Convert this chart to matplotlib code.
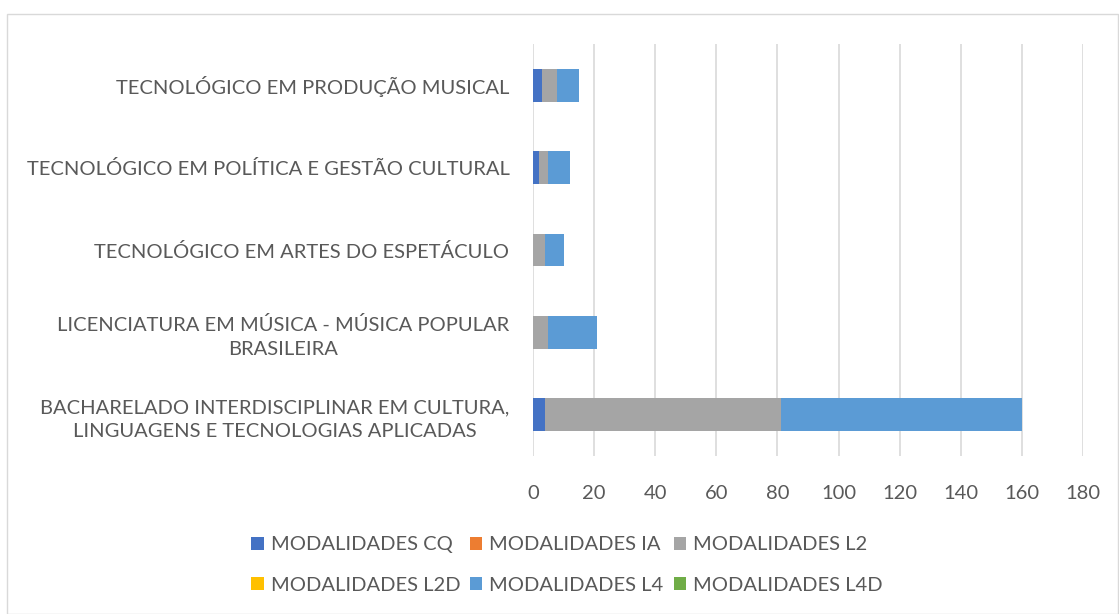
import matplotlib.pyplot as plt
from matplotlib.patches import Rectangle

plt.rcParams['font.family'] = ['Lato', 'DejaVu Sans']

cursos = [
    'BACHARELADO INTERDISCIPLINAR EM CULTURA,\nLINGUAGENS E TECNOLOGIAS APLICADAS',
    'LICENCIATURA EM MÚSICA - MÚSICA POPULAR\nBRASILEIRA',
    'TECNOLÓGICO EM ARTES DO ESPETÁCULO',
    'TECNOLÓGICO EM POLÍTICA E GESTÃO CULTURAL',
    'TECNOLÓGICO EM PRODUÇÃO MUSICAL',
]
series_names = ['MODALIDADES CQ', 'MODALIDADES IA', 'MODALIDADES L2',
                'MODALIDADES L2D', 'MODALIDADES L4', 'MODALIDADES L4D']
cq = [4, 0, 0, 2, 3]
ia = [0, 0, 0, 0, 0]
l2 = [77, 5, 4, 3, 5]
l2d = [0, 0, 0, 0, 0]
l4 = [79, 16, 6, 7, 7]
l4d = [0, 0, 0, 0, 0]
colors = ['#4472C4', '#ED7D31', '#A5A5A5', '#FFC000', '#5B9BD5', '#70AD47']

fig = plt.figure(figsize=(11.19, 6.14), dpi=100)
ax = fig.add_axes([533 / 1119, 1 - 456 / 614, 550 / 1119, 412 / 614])

text_color = '#595959'
fs = 14.5
y = range(len(cursos))
left = [0] * len(cursos)
handles = []
for name, vals, c in zip(series_names, [cq, ia, l2, l2d, l4, l4d], colors):
    h = ax.barh(y, vals, left=left, height=0.4, color=c, label=name, zorder=3)
    handles.append(h)
    left = [a + b for a, b in zip(left, vals)]

ax.set_xlim(0, 180)
ax.set_ylim(-0.5, len(cursos) - 0.5)
ax.set_xticks(range(0, 181, 20))
ax.set_yticks(list(y))
ax.set_yticklabels(cursos, fontsize=fs, color=text_color, linespacing=1.45)
ax.tick_params(axis='x', labelsize=fs, colors=text_color, length=0, pad=21)
ax.tick_params(axis='y', length=0, pad=17)
for lab in ax.get_yticklabels():
    lab.set_horizontalalignment('right')
    lab.set_multialignment('center')
ax.grid(axis='x', color='#D9D9D9', linewidth=1.2, zorder=0)
for s in ax.spines.values():
    s.set_visible(False)

order = [0, 3, 1, 4, 2, 5]
leg = fig.legend([handles[i] for i in order], [series_names[i] for i in order],
                 ncol=3, loc='center', bbox_to_anchor=(567 / 1119, 1 - 565 / 614),
                 frameon=False, fontsize=fs, handlelength=0.6, handleheight=0.6,
                 handletextpad=0.35, columnspacing=0.5, labelspacing=1.15)
for t in leg.get_texts():
    t.set_color(text_color)

fig.patches.append(Rectangle((7 / 1119, 0), 1 - 8 / 1119, 1 - 14 / 614,
                             transform=fig.transFigure, fill=False,
                             edgecolor='#D9D9D9', linewidth=1))

fig.savefig('out.png', dpi=100)
